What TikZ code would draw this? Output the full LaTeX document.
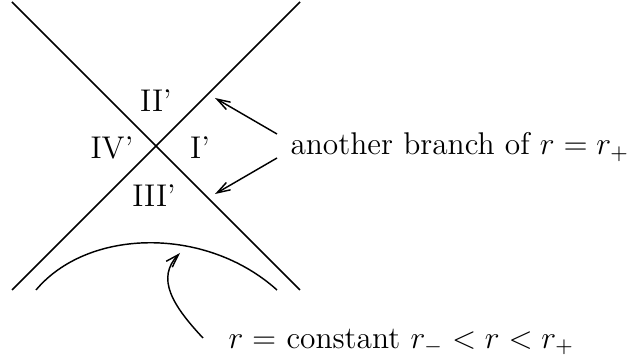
\documentclass[tikz,border=0pt]{standalone}
\usetikzlibrary{arrows.meta}
\begin{document}
\begin{tikzpicture}[x=0.379pt,y=-0.379pt,
  lin/.style={line width=0.55pt},
  arr/.style={line width=0.55pt,-{Straight Barb[length=5pt,width=3.2pt]}},
  lbl/.style={inner sep=0pt,font=\fontsize{11.9}{14}\selectfont}]
\useasboundingbox (0,0) rectangle (642,363);
% horizon lines
\coordinate (tl) at (12,2);
\coordinate (br) at (300,290);
\coordinate (tr) at (300,2);
\coordinate (bl) at (12,290);
\draw[lin] (tl) -- (br);
\draw[lin] (tr) -- (bl);
% r = constant curve
\coordinate (al) at (36,290);
\coordinate (ar) at (277,290);
\draw[lin] (al) .. controls (88,228) and (206,226) .. (ar);
% region labels
\node[lbl] (II) at (156,101) {II'};
\node[lbl] (IV) at (112,148) {IV'};
\node[lbl] (I) at (200,148) {I'};
\node[lbl] (III) at (154,196) {III'};
% texts
\node[lbl,anchor=west] (branch) at (290,147) {another branch of $r = r_+$};
\node[lbl,anchor=west] (const) at (228,342) {$r = $ constant $r_- < r < r_+$};
% arrows
\coordinate (u0) at (277,134);
\coordinate (u1) at (215,98);
\coordinate (d0) at (277,158);
\coordinate (d1) at (215,194);
\draw[arr] (u0) -- (u1);
\draw[arr] (d0) -- (d1);
\coordinate (c0) at (203,338);
\coordinate (c1) at (180,253);
\draw[arr] (c0) .. controls (172,305) and (156,278) .. (c1);
\end{tikzpicture}
\end{document}
